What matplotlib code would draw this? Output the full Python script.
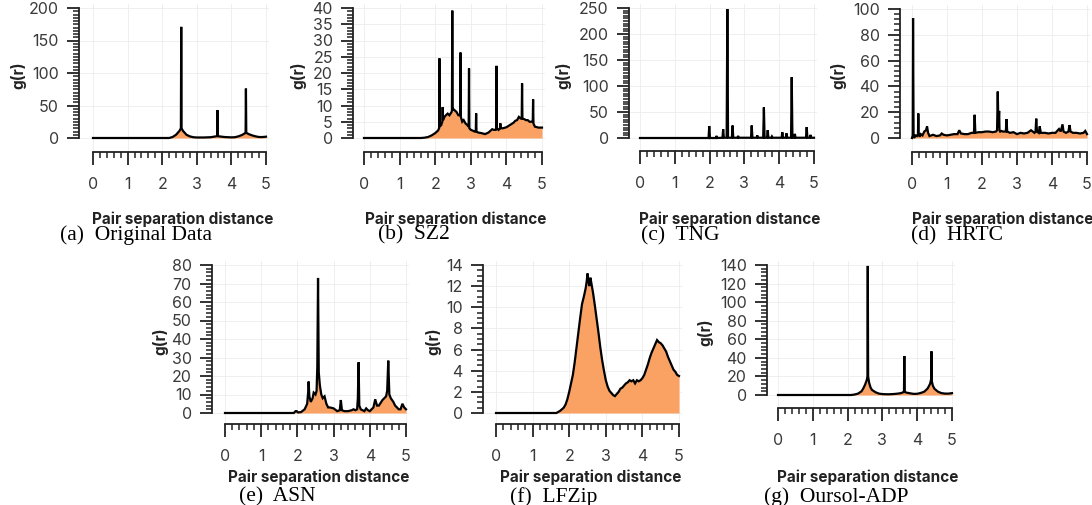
import matplotlib
matplotlib.use("Agg")
import matplotlib.pyplot as plt
import numpy as np
from matplotlib.ticker import FixedLocator

# ---------------- data ----------------
orig_r = [0, 2.2, 2.3, 2.4, 2.5, 2.54, 2.55, 2.56, 2.6, 2.7, 2.8, 2.9, 3.0, 3.2, 3.4, 3.55, 3.59, 3.6, 3.61,
          3.65, 3.8, 4.0, 4.1, 4.2, 4.3, 4.4, 4.41, 4.42, 4.43, 4.5, 4.6, 4.7, 4.8, 4.9, 5.0]
orig_g = [0, 0, 1.5, 5, 11, 15, 171, 15, 11, 5, 2.5, 1.2, 0.8, 0.8, 1.2, 2.5, 3, 43, 3,
          2.5, 1.5, 1, 1.2, 2.5, 4.5, 7.5, 8, 76, 8, 6, 4, 2.5, 1.5, 1.5, 2]

sz2_r = [0, 1.6, 1.7, 1.8, 1.9, 2.0, 2.08, 2.11, 2.12, 2.13, 2.17, 2.2, 2.21, 2.22, 2.26, 2.3, 2.35, 2.4,
         2.46, 2.47, 2.48, 2.49, 2.5, 2.55, 2.6, 2.65, 2.7, 2.71, 2.72, 2.76, 2.8, 2.85, 2.9, 2.94, 2.95,
         2.96, 3.0, 3.05, 3.1, 3.14, 3.15, 3.16, 3.2, 3.3, 3.4, 3.5, 3.55, 3.6, 3.65, 3.7, 3.71, 3.72,
         3.73, 3.78, 3.82, 3.83, 3.84, 3.9, 4.0, 4.1, 4.2, 4.25, 4.3, 4.35, 4.4, 4.43, 4.44, 4.45, 4.5,
         4.55, 4.6, 4.65, 4.7, 4.74, 4.75, 4.76, 4.8, 4.9, 5.0]
sz2_g = [0, 0, 0.1, 0.3, 0.8, 1.5, 2.3, 3, 24.5, 3.5, 4, 5, 9.5, 5.5, 6.5, 7, 7.5, 7,
         8, 8.5, 39.2, 8.5, 9, 8.5, 8, 7, 7, 26.3, 6.5, 5, 5.5, 4.5, 4, 3.5, 21.4,
         3, 2.5, 2.3, 2, 2, 7.6, 2, 1.7, 1.5, 1.2, 1.7, 2.2, 2.7, 2.5, 2.5, 3, 22.2,
         3, 2.5, 3, 4.5, 3, 3, 3.3, 4, 4.7, 5.3, 5.5, 6.5, 6, 6, 16.8, 6, 5.8,
         5.5, 5.5, 5, 5, 5, 11.9, 4.5, 3.5, 3.2, 3.2]

tng_r = [0, 1.97, 1.99, 2.01, 2.18, 2.2, 2.22, 2.37, 2.39, 2.41, 2.49, 2.51, 2.53, 2.64, 2.66, 2.68,
         2.8, 2.82, 2.84, 3.19, 3.21, 3.23, 3.35, 3.37, 3.39, 3.54, 3.56, 3.58, 3.65, 3.67, 3.69, 3.77,
         3.79, 3.81, 4.07, 4.09, 4.11, 4.19, 4.21, 4.23, 4.34, 4.36, 4.38, 4.43, 4.45, 4.47, 4.77, 4.79,
         4.81, 4.88, 4.9, 4.92, 5.0]
tng_g = [0, 0, 23, 0, 0, 4, 0, 0.5, 17, 0.5, 0.5, 248, 0.5, 0.5, 24, 0.5,
         0.5, 4, 0.5, 0.5, 24, 0.5, 0.5, 5, 0.5, 0.5, 59, 0.5, 0.5, 15, 0.5, 0.5,
         3, 0.5, 0.5, 11, 0.5, 0.5, 9, 0.5, 0.5, 117, 0.5, 0.5, 8, 0.5, 0.5, 21,
         0.5, 0.5, 6, 0.5, 0.5]

hrtc_r = [0, 0.02, 0.03, 0.045, 0.06, 0.1, 0.14, 0.17, 0.18, 0.19, 0.22, 0.25, 0.3, 0.35, 0.4, 0.43,
          0.46, 0.5, 0.55, 0.6, 0.7, 0.8, 0.85, 0.9, 1.0, 1.1, 1.2, 1.3, 1.35, 1.4, 1.5, 1.6, 1.7,
          1.77, 1.79, 1.81, 1.9, 2.0, 2.1, 2.2, 2.3, 2.4, 2.43, 2.45, 2.47, 2.49, 2.5, 2.52, 2.55,
          2.6, 2.68, 2.7, 2.72, 2.8, 2.9, 3.0, 3.1, 3.2, 3.3, 3.4, 3.5, 3.53, 3.55, 3.57, 3.62, 3.65,
          3.68, 3.8, 3.9, 4.0, 4.1, 4.2, 4.25, 4.3, 4.33, 4.4, 4.47, 4.5, 4.53, 4.6, 4.7, 4.8, 4.9,
          4.95, 5.0]
hrtc_g = [0, 2, 93, 2, 0, 2, 1.5, 3, 19, 3, 1, 3, 2, 5, 6, 9,
          4, 1.5, 2, 2.5, 1.5, 2, 3.5, 2.5, 2, 2.5, 3, 3, 6, 3.5, 3, 3, 4,
          4, 18, 4, 4.5, 4.5, 5, 5, 4.5, 5, 6, 36, 8, 21, 6, 5, 5.5,
          5, 5, 14.7, 5, 4, 4.5, 3, 4, 3.5, 4, 6, 4, 5, 15, 5, 4, 9,
          4, 4, 3.5, 4, 4, 7, 5, 10.6, 5, 4, 5, 10, 5, 4, 4, 3.5, 4,
          5.5, 3]

asn_r = [0, 1.9, 1.95, 1.98, 2.02, 2.1, 2.2, 2.27, 2.3, 2.31, 2.33, 2.37, 2.42, 2.45, 2.5, 2.53, 2.55,
         2.57, 2.59, 2.62, 2.66, 2.7, 2.75, 2.8, 2.85, 2.9, 3.0, 3.1, 3.17, 3.2, 3.23, 3.3, 3.4, 3.5,
         3.55, 3.6, 3.65, 3.67, 3.69, 3.71, 3.75, 3.8, 3.85, 3.9, 3.95, 4.0, 4.05, 4.1, 4.15, 4.2,
         4.25, 4.3, 4.35, 4.4, 4.45, 4.48, 4.51, 4.54, 4.58, 4.65, 4.7, 4.8, 4.85, 4.9, 4.95, 5.0]
asn_g = [0, 0, 1, 1, 0.3, 0.5, 2, 5, 12, 17, 9, 6, 8, 11, 10, 12, 25,
         73, 22, 15, 10, 8, 9, 5, 3, 3, 2.5, 1, 1.5, 7, 1.5, 1, 1, 1.5,
         2, 1.5, 2, 8, 27.4, 4, 2, 1.5, 1, 2.5, 1.5, 1, 2, 3, 7.4, 4,
         4, 5.5, 7, 8, 9, 12, 28.3, 10, 8, 6, 4, 2, 2, 5, 3, 2]

lfz_r = [0, 1.65, 1.7, 1.75, 1.8, 1.85, 1.9, 1.95, 2.0, 2.05, 2.1, 2.15, 2.2, 2.25, 2.3, 2.35, 2.4,
         2.45, 2.48, 2.5, 2.53, 2.55, 2.58, 2.6, 2.63, 2.65, 2.7, 2.75, 2.8, 2.85, 2.9, 2.95, 3.0,
         3.05, 3.1, 3.15, 3.2, 3.25, 3.3, 3.35, 3.4, 3.45, 3.5, 3.55, 3.6, 3.65, 3.7, 3.75, 3.8,
         3.85, 3.9, 3.95, 4.0, 4.05, 4.1, 4.15, 4.2, 4.25, 4.3, 4.35, 4.4, 4.45, 4.5, 4.55, 4.6,
         4.65, 4.7, 4.75, 4.8, 4.85, 4.9, 4.95, 5.0]
lfz_g = [0, 0, 0.1, 0.2, 0.35, 0.5, 0.8, 1.3, 2.0, 2.8, 3.6, 4.8, 6.2, 7.6, 9.0, 10.3, 11.0,
         11.8, 12.5, 13.2, 12.4, 12.0, 12.8, 12.4, 11.8, 11.4, 10.2, 8.9, 7.6, 6.2, 5.0, 4.0, 3.1,
         2.5, 2.1, 1.9, 1.7, 1.6, 1.8, 2.0, 2.3, 2.4, 2.6, 2.8, 2.9, 3.1, 3.0, 3.1, 2.8,
         3.1, 3.0, 3.1, 3.3, 3.6, 4.1, 4.6, 5.2, 5.7, 6.1, 6.5, 6.9, 6.7, 6.6, 6.4, 6.1,
         5.8, 5.3, 4.9, 4.5, 4.1, 3.9, 3.6, 3.5]

adp_r = [0, 2.1, 2.2, 2.3, 2.4, 2.45, 2.5, 2.55, 2.57, 2.58, 2.59, 2.62, 2.66, 2.7, 2.8, 2.9, 3.0,
         3.1, 3.2, 3.3, 3.4, 3.5, 3.55, 3.6, 3.62, 3.63, 3.64, 3.66, 3.7, 3.8, 3.9, 4.0, 4.1, 4.2,
         4.3, 4.37, 4.4, 4.41, 4.42, 4.45, 4.5, 4.6, 4.7, 4.8, 4.9, 5.0]
adp_g = [0, 0, 0.5, 1.5, 4, 7, 11, 16, 20, 139, 20, 13, 8, 5.5, 3, 1.5, 1,
         0.8, 0.8, 1, 1.3, 1.8, 2.2, 3, 3.5, 42, 3.5, 3, 2.5, 1.8, 1.2, 1.3, 2.2, 3.5,
         7, 12, 17, 47, 15, 10, 6.5, 3.5, 2, 1.5, 1.5, 2]

captions = ["(a)  Original Data", "(b)  SZ2", "(c)  TNG", "(d)  HRTC",
            "(e)  ASN", "(f)  LFZip", "(g)  Oursol-ADP"]
series = [(orig_r, orig_g), (sz2_r, sz2_g), (tng_r, tng_g), (hrtc_r, hrtc_g),
          (asn_r, asn_g), (lfz_r, lfz_g), (adp_r, adp_g)]
y_max = [200, 40, 250, 100, 80, 14, 140]
y_major = [50, 5, 50, 20, 10, 2, 20]
y_minor = [5, 1, 5, 4, 2, 0.5, 4]
x_ticks = [0, 1, 2, 3, 4, 5]
x_label = "Pair separation distance"
y_label = "g(r)"

# ---------------- layout (pixels) ----------------
W, H = 1092, 505
# spine x, data x0, data x5, spine y, data y0, data ytop
geom = [
    (79, 93, 266, 152, 138, 8),
    (353, 364, 542, 152, 138, 8),
    (629, 640, 814, 151, 138, 8),
    (900, 912, 1087, 152, 138, 9),
    (212, 225, 406, 424, 413, 265),
    (483, 496, 679, 424, 413, 265),
    (767, 778, 952, 408, 395, 265),
]
ylab_x = [18, 298, 563, 838, 160, 433, 705]
xlab_y = [219, 219, 219, 219, 477, 477, 477]
cap_pos = [(136, 235), (414, 235), (680, 236), (957, 236), (277, 497), (554, 497), (836, 497)]

FILL = "#F9A264"
TXT = "#3a3a3a"
SANS = ["Inter", "DejaVu Sans"]

fig = plt.figure(figsize=(W / 100, H / 100), dpi=100)

for i, ((r, g), ymax) in enumerate(zip(series, y_max)):
    sx, x0, x5, sy, y0, yt = geom[i]
    ppx = (x5 - x0) / 5.0
    ppy = (y0 - yt) / float(ymax)
    right_px = x5 + 3
    top_px = yt - 4
    ax = fig.add_axes([sx / W, 1 - sy / H, (right_px - sx) / W, (sy - top_px) / H])
    ax.set_xlim(-(x0 - sx) / ppx, 5 + 3 / ppx)
    ax.set_ylim(-(sy - y0) / ppy, ymax + 4 / ppy)

    ax.fill_between(r, 0, g, color=FILL, lw=0, zorder=2)
    ax.plot(r, g, color="black", lw=1.6, zorder=3, solid_joinstyle="miter")

    for s in ("top", "right"):
        ax.spines[s].set_visible(False)
    for s in ("left", "bottom"):
        ax.spines[s].set_linewidth(1.3)
        ax.spines[s].set_color("#222222")
    ax.spines["left"].set_bounds(0, ymax)
    ax.spines["bottom"].set_bounds(0, 5)

    ax.xaxis.set_major_locator(FixedLocator(x_ticks))
    ax.xaxis.set_minor_locator(FixedLocator(np.arange(0, 5.0001, 0.2)))
    ax.yaxis.set_major_locator(FixedLocator(np.arange(0, ymax + 1e-6, y_major[i])))
    ax.yaxis.set_minor_locator(FixedLocator(np.arange(0, ymax + 1e-6, y_minor[i])))
    ax.tick_params(which="major", length=9, width=1.3, color="#222222", direction="out")
    ax.tick_params(which="minor", length=4.5, width=1.1, color="#222222", direction="out")
    ax.tick_params(axis="x", which="major", pad=9)
    ax.tick_params(axis="y", which="major", pad=5.5)
    for lab in ax.get_xticklabels() + ax.get_yticklabels():
        lab.set_fontsize(11.5)
        lab.set_color(TXT)
        lab.set_family(SANS)
    ax.grid(True, which="major", color="#ececec", lw=0.6, zorder=0)
    ax.set_axisbelow(True)

    # labels
    fig.text(((x0 + x5) / 2 + 3) / W, 1 - xlab_y[i] / H, x_label, ha="center", va="center",
             fontsize=11, fontweight="bold", color="#222222", family=SANS)
    fig.text(ylab_x[i] / W, 1 - ((y0 + yt) / 2 + 2) / H, y_label, ha="center", va="center",
             rotation=90, fontsize=11, fontweight="bold", color="#222222", family=SANS)
    cx, cy = cap_pos[i]
    fig.text(cx / W, 1 - cy / H, captions[i], ha="center", va="center",
             fontsize=15.5, color="black", family=["Liberation Serif", "DejaVu Serif"])

fig.savefig("out.png", dpi=100)
